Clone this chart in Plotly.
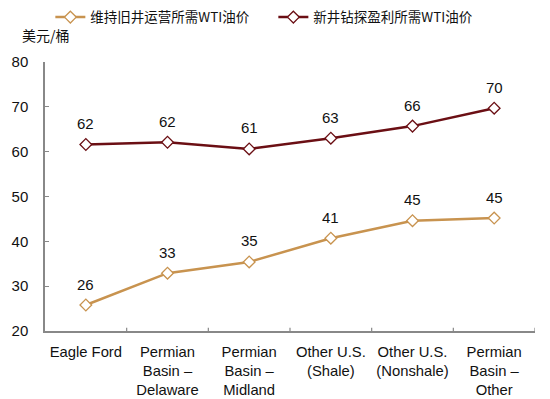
import plotly.graph_objects as go

categories = ["Eagle Ford", "Permian<br>Basin –<br>Delaware", "Permian<br>Basin –<br>Midland",
              "Other U.S.<br>(Shale)", "Other U.S.<br>(Nonshale)", "Permian<br>Basin –<br>Other"]
existing_wells = [25.8, 32.9, 35.4, 40.7, 44.6, 45.2]
new_wells = [61.6, 62.1, 60.6, 63.0, 65.7, 69.7]
name_existing = "维持旧井运营所需WTI油价"
name_new = "新井钻探盈利所需WTI油价"
y_unit = "美元/桶"

orange = "#C8934F"
darkred = "#6B0F14"
num_font = "Liberation Sans, Arial"

fig = go.Figure()
annotations = []
for name, vals, col in [(name_existing, existing_wells, orange), (name_new, new_wells, darkred)]:
    xs = list(range(len(categories)))
    fig.add_trace(go.Scatter(
        x=xs, y=vals, name=name, mode="lines+markers",
        line=dict(color=col, width=2.5),
        marker=dict(symbol="diamond", size=9, color="white", line=dict(color=col, width=1.3)),
        cliponaxis=False,
    ))
    for xi, v in zip(xs, vals):
        annotations.append(dict(x=xi, y=v, xref="x", yref="y", text=f"{round(v)}",
                                showarrow=False, yshift=21, yanchor="middle",
                                font=dict(family=num_font, size=15, color="#111111")))

annotations.append(dict(text=y_unit, xref="paper", yref="paper", x=0.002, y=1.10,
                        xanchor="center", yanchor="middle", showarrow=False,
                        font=dict(family="Noto Sans CJK SC", size=14, color="#111111")))

fig.update_layout(
    width=550, height=399,
    margin=dict(l=37, r=23, t=54, b=76, autoexpand=False),
    paper_bgcolor="white", plot_bgcolor="white",
    showlegend=True,
    legend=dict(orientation="h", x=0.077, xref="container", y=1.166, yref="paper",
                yanchor="middle", xanchor="left", maxheight=60,
                font=dict(family="Noto Sans CJK SC", size=13.5, color="#111111"),
                itemwidth=30, tracegroupgap=0, entrywidth=178, bgcolor="rgba(0,0,0,0)"),
    xaxis=dict(range=[-0.5, 5.5], tickmode="array", tickvals=list(range(len(categories))),
               ticktext=categories, showline=True, linecolor="#888888", linewidth=1.5,
               showgrid=False, zeroline=False, ticks="",
               tickfont=dict(family=num_font, size=14.8, color="#111111"),
               ticklabelstandoff=6),
    yaxis=dict(range=[20, 80], dtick=10, showline=True, linecolor="#888888", linewidth=1.5,
               ticks="inside", ticklen=4, tickcolor="#888888", showgrid=False, zeroline=False,
               tickfont=dict(family=num_font, size=15, color="#111111"),
               ticklabelstandoff=12),
    annotations=annotations,
)
# boundary ticks on x axis
for b in [0.5, 1.5, 2.5, 3.5, 4.5, 5.5]:
    fig.add_shape(type="line", xref="x", yref="paper", x0=b, x1=b, y0=0, y1=0.012,
                  line=dict(color="#888888", width=1.2))

fig.write_html("out.html")
